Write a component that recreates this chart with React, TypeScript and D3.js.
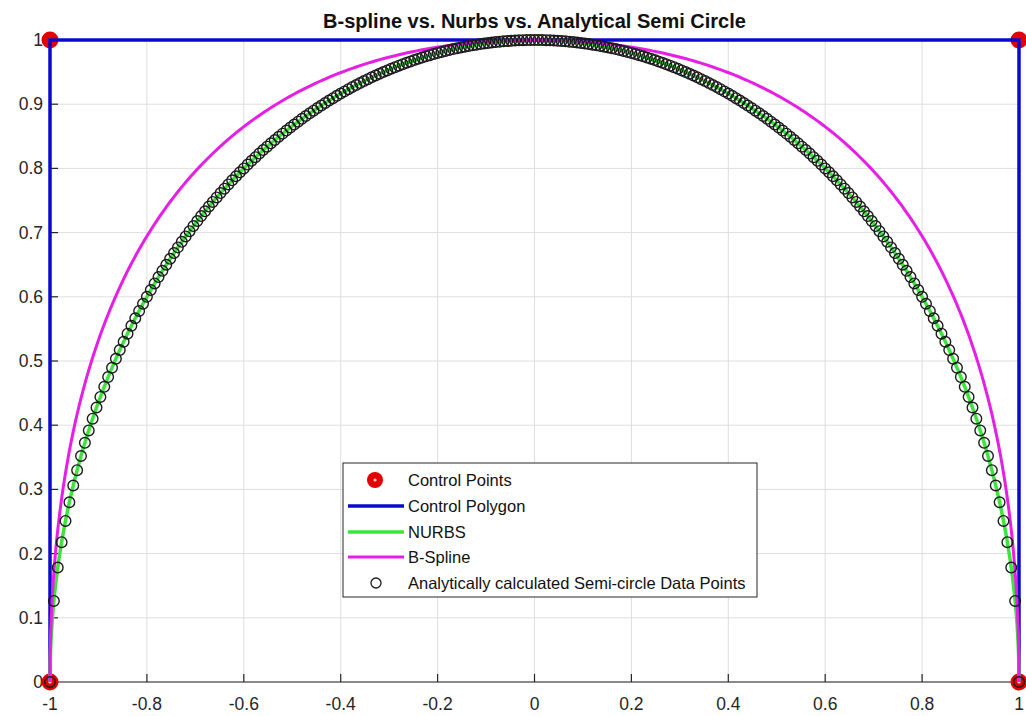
import React from "react";
import * as d3 from "d3";

// ---- data ----
const controlX = [-1, -1, 1, 1];
const controlY = [0, 1, 1, 0];
const nurbsWeights = [1, 0.5, 0.5, 1];
const bsplineWeights = [1, 1, 1, 1];
const knots = [0, 0, 0, 0.5, 1, 1, 1];
const degree = 2;
const xTicks = [-1, -0.8, -0.6, -0.4, -0.2, 0, 0.2, 0.4, 0.6, 0.8, 1];
const yTicks = [0, 0.1, 0.2, 0.3, 0.4, 0.5, 0.6, 0.7, 0.8, 0.9, 1];
const xTickLabels = ["-1", "-0.8", "-0.6", "-0.4", "-0.2", "0", "0.2", "0.4", "0.6", "0.8", "1"];
const yTickLabels = ["0", "0.1", "0.2", "0.3", "0.4", "0.5", "0.6", "0.7", "0.8", "0.9", "1"];
// analytic semicircle sample abscissae (251 points, -1..1)
const circleXs = d3.range(0, 251).map((i) => -1 + (2 * i) / 250);
const legendLabels = [
  "Control Points",
  "Control Polygon",
  "NURBS",
  "B-Spline",
  "Analytically calculated Semi-circle Data Points",
];
const title = "B-spline vs. Nurbs vs. Analytical Semi Circle";

// ---- helpers ----
function basis(i: number, p: number, u: number): number {
  if (p === 0) {
    if (u === 1) return knots[i] < 1 && knots[i + 1] === 1 ? 1 : 0;
    return knots[i] <= u && u < knots[i + 1] ? 1 : 0;
  }
  let a = 0;
  let b = 0;
  const d1 = knots[i + p] - knots[i];
  const d2 = knots[i + p + 1] - knots[i + 1];
  if (d1 > 0) a = ((u - knots[i]) / d1) * basis(i, p - 1, u);
  if (d2 > 0) b = ((knots[i + p + 1] - u) / d2) * basis(i + 1, p - 1, u);
  return a + b;
}

function curve(weights: number[]): [number, number][] {
  const pts: [number, number][] = [];
  const n = 400;
  for (let k = 0; k <= n; k++) {
    const u = k / n;
    let sx = 0, sy = 0, sw = 0;
    for (let i = 0; i < controlX.length; i++) {
      const N = basis(i, degree, u) * weights[i];
      sx += N * controlX[i];
      sy += N * controlY[i];
      sw += N;
    }
    pts.push([sx / sw, sy / sw]);
  }
  return pts;
}

const W = 1026;
const H = 716;
const left = 50, right = 1019, top = 40, bottom = 682;

export default function App() {
  const x = d3.scaleLinear().domain([-1, 1]).range([left, right]);
  const y = d3.scaleLinear().domain([0, 1]).range([bottom, top]);
  const line = d3
    .line<[number, number]>()
    .x((d) => x(d[0]))
    .y((d) => y(d[1]));

  const nurbs = curve(nurbsWeights);
  const bspline = curve(bsplineWeights);
  const polygon: [number, number][] = controlX.map((cx, i) => [cx, controlY[i]]);
  const circlePts = circleXs.map((cx) => [cx, Math.sqrt(Math.max(0, 1 - cx * cx))]);

  const font = "'Liberation Sans', Arial, Helvetica, sans-serif";
  const blue = "#0a0acc";
  const green = "#3ce43c";
  const magenta = "#e61ee6";
  const red = "#e40000";

  const lg = { x0: 343, y0: 463, x1: 757, y1: 597 };
  const rowY = [480, 506, 532, 557, 583];

  return (
    <svg width={W} height={H} style={{ position: "absolute", left: 0, top: 0, background: "#fff" }}>
      <rect x={0} y={0} width={W} height={H} fill="#fff" />
      {/* grid */}
      <g stroke="#dedede" strokeWidth={1}>
        {xTicks.map((t) => (
          <line key={"gx" + t} x1={x(t)} x2={x(t)} y1={top} y2={bottom} />
        ))}
        {yTicks.map((t) => (
          <line key={"gy" + t} x1={left} x2={right} y1={y(t)} y2={y(t)} />
        ))}
      </g>
      {/* axes */}
      <g stroke="#262626" strokeWidth={1.2}>
        <line x1={left} x2={right} y1={bottom} y2={bottom} />
        <line x1={left} x2={left} y1={top} y2={bottom} />
        {xTicks.map((t) => (
          <line key={"tx" + t} x1={x(t)} x2={x(t)} y1={bottom} y2={bottom - 8} />
        ))}
        {yTicks.map((t) => (
          <line key={"ty" + t} x1={left} x2={left + 8} y1={y(t)} y2={y(t)} />
        ))}
      </g>
      <g fontFamily={font} fontSize={17.5} fill="#262626">
        {xTicks.map((t, i) => (
          <text key={"lx" + t} x={x(t)} y={bottom + 28} textAnchor="middle">
            {xTickLabels[i]}
          </text>
        ))}
        {yTicks.map((t, i) => (
          <text key={"ly" + t} x={left - 7} y={y(t) + 6} textAnchor="end">
            {yTickLabels[i]}
          </text>
        ))}
      </g>
      {/* title */}
      <text x={(left + right) / 2} y={28} textAnchor="middle" fontFamily={font} fontWeight="bold" fontSize={20} fill="#111">
        {title}
      </text>
      {/* control points */}
      {polygon.map((p, i) => (
        <g key={"cp" + i}>
          <circle cx={x(p[0])} cy={y(p[1])} r={8.5} fill={red} />
          <circle cx={x(p[0])} cy={y(p[1])} r={1.6} fill="#ffd0d0" />
        </g>
      ))}
      {/* control polygon */}
      <path d={line(polygon) || ""} fill="none" stroke={blue} strokeWidth={3.5} />
      {/* NURBS */}
      <path d={line(nurbs) || ""} fill="none" stroke={green} strokeWidth={3.5} />
      {/* B-spline */}
      <path d={line(bspline) || ""} fill="none" stroke={magenta} strokeWidth={3} />
      {/* analytic points */}
      <g fill="none" stroke="#1a1a1a" strokeWidth={1.4}>
        {circlePts.map((p, i) => (
          <circle key={"ap" + i} cx={x(p[0])} cy={y(p[1])} r={5.3} />
        ))}
      </g>
      {/* legend */}
      <rect x={lg.x0} y={lg.y0} width={lg.x1 - lg.x0} height={lg.y1 - lg.y0} fill="#fff" stroke="#262626" strokeWidth={1} />
      <circle cx={375} cy={rowY[0]} r={8} fill={red} />
      <circle cx={375} cy={rowY[0]} r={1.6} fill="#ffd0d0" />
      <line x1={348} x2={404} y1={rowY[1]} y2={rowY[1]} stroke={blue} strokeWidth={3.5} />
      <line x1={348} x2={404} y1={rowY[2]} y2={rowY[2]} stroke={green} strokeWidth={3.5} />
      <line x1={348} x2={404} y1={rowY[3]} y2={rowY[3]} stroke={magenta} strokeWidth={3} />
      <circle cx={376} cy={rowY[4]} r={5} fill="none" stroke="#1a1a1a" strokeWidth={1.3} />
      <g fontFamily={font} fontSize={16.5} fill="#111">
        {legendLabels.map((l, i) => (
          <text key={"lg" + i} x={408} y={rowY[i] + 6}>
            {l}
          </text>
        ))}
      </g>
    </svg>
  );
}
